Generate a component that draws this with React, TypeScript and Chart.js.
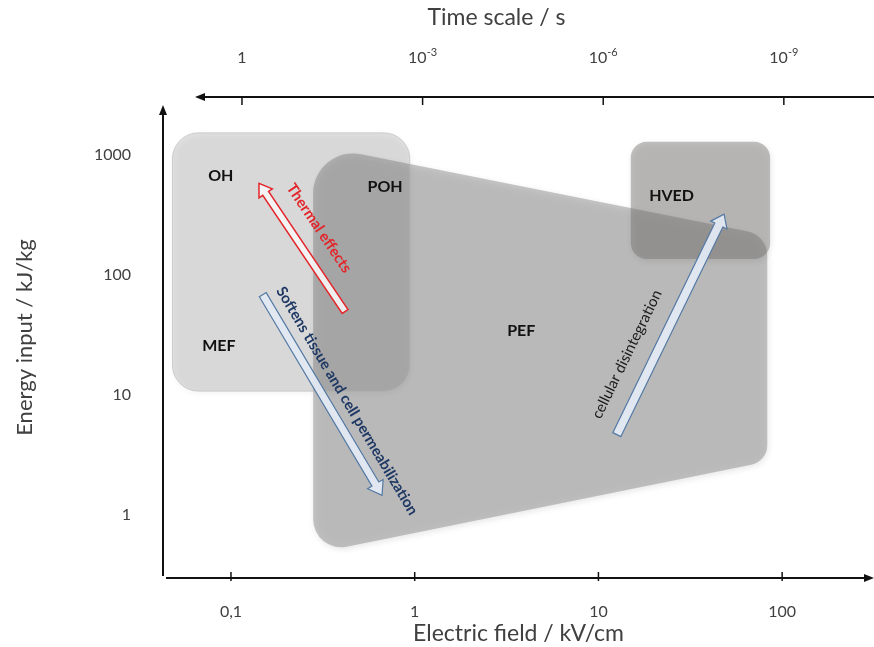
import React, { useEffect, useRef } from 'react';
import { Chart, registerables } from 'chart.js';

Chart.register(...registerables);

// ---------- data ----------
const X_TICKS = [0.1, 1, 10, 100];
const X_TICK_LABELS = ['0,1', '1', '10', '100'];
const Y_TICKS = [1, 10, 100, 1000];
const Y_TICK_LABELS = ['1', '10', '100', '1000'];
const TIME_TICKS = [1, 1e-3, 1e-6, 1e-9];
const TIME_TICK_BASE = ['1', '10', '10', '10'];
const TIME_TICK_EXP = ['', '-3', '-6', '-9'];

// regions (electric field kV/cm, energy kJ/kg)
const OH_X = [0.048, 0.94];
const OH_Y = [10.8, 1530];
const PEF_X = [0.28, 83, 83, 0.28];
const PEF_Y = [1220, 215, 2.8, 0.48];
const HVED_X = [15, 86];
const HVED_Y = [136, 1290];

const LABEL_TEXT = ['OH', 'POH', 'MEF', 'PEF', 'HVED'];
const LABEL_X = [0.088, 0.69, 0.086, 3.8, 25];
const LABEL_Y = [676, 548, 25.5, 34.6, 453];

const ARROW_TEXT = ['Thermal effects', 'Softens tissue and cell permeabilization', 'cellular disintegration'];
const ARROW_FROM_X = [0.418, 0.149, 12.6];
const ARROW_FROM_Y = [49.7, 68.7, 4.69];
const ARROW_TO_X = [0.142, 0.664, 48.3];
const ARROW_TO_Y = [580, 1.466, 321];
const ARROW_TEXT_X = [0.301, 0.428, 14.3];
const ARROW_TEXT_Y = [246, 8.95, 21.9];

// ---------- styles ----------
const FONT = 'Lato, "Open Sans", sans-serif';
const TXT = '#404040';
const ARROW_STYLE = [
  { stroke: '#e3262b', fill: 'rgba(246,246,246,0.9)', w: 3.5, hw: 8, hl: 12, lw: 1.5, color: '#e3262b', font: `bold 15px ${FONT}` },
  { stroke: '#5479a3', fill: 'rgba(226,233,243,0.95)', w: 4, hw: 9, hl: 13, lw: 1.2, color: '#1f3864', font: `bold 15px ${FONT}` },
  { stroke: '#5479a3', fill: 'rgba(226,233,243,0.95)', w: 4.5, hw: 9, hl: 12, lw: 1.2, color: '#1a1a1a', font: `15px ${FONT}` },
];

function roundedPath(ctx: CanvasRenderingContext2D, pts: number[][], radii: number[]) {
  const n = pts.length;
  ctx.beginPath();
  ctx.moveTo((pts[n - 1][0] + pts[0][0]) / 2, (pts[n - 1][1] + pts[0][1]) / 2);
  for (let i = 0; i < n; i++) {
    const p = pts[i];
    const q = pts[(i + 1) % n];
    ctx.arcTo(p[0], p[1], q[0], q[1], radii[i]);
  }
  ctx.closePath();
}

function blockArrow(ctx: CanvasRenderingContext2D, t: number[], p: number[], w: number, hw: number, hl: number) {
  const dx = p[0] - t[0];
  const dy = p[1] - t[1];
  const L = Math.hypot(dx, dy);
  const ux = dx / L, uy = dy / L;
  const nx = -uy, ny = ux;
  const bx = p[0] - ux * hl, by = p[1] - uy * hl;
  ctx.beginPath();
  ctx.moveTo(t[0] + nx * w, t[1] + ny * w);
  ctx.lineTo(bx + nx * w, by + ny * w);
  ctx.lineTo(bx + nx * hw, by + ny * hw);
  ctx.lineTo(p[0], p[1]);
  ctx.lineTo(bx - nx * hw, by - ny * hw);
  ctx.lineTo(bx - nx * w, by - ny * w);
  ctx.lineTo(t[0] - nx * w, t[1] - ny * w);
  ctx.closePath();
}

const diagramPlugin = {
  id: 'diagram',
  beforeDatasetsDraw(chart: any) {
    const ctx: CanvasRenderingContext2D = chart.ctx;
    const sx = chart.scales.x, sy = chart.scales.y;
    const P = (x: number, y: number) => [sx.getPixelForValue(x), sy.getPixelForValue(y)];
    const rect = (xs: number[], ys: number[]) => [P(xs[0], ys[1]), P(xs[1], ys[1]), P(xs[1], ys[0]), P(xs[0], ys[0])];

    ctx.save();
    // PEF
    ctx.shadowColor = 'rgba(0,0,0,0.22)';
    ctx.shadowBlur = 6;
    ctx.shadowOffsetX = 1;
    ctx.shadowOffsetY = 2;
    roundedPath(ctx, PEF_X.map((x, i) => P(x, PEF_Y[i])), [40, 25, 20, 28]);
    ctx.fillStyle = 'rgba(128,128,128,0.44)';
    ctx.fill();
    // OH / MEF
    roundedPath(ctx, rect(OH_X, OH_Y), [26, 26, 26, 26]);
    ctx.fillStyle = 'rgba(128,128,128,0.24)';
    ctx.fill();
    ctx.shadowColor = 'transparent';
    ctx.strokeStyle = 'rgba(175,175,175,0.5)';
    ctx.lineWidth = 1;
    ctx.stroke();
    // HVED
    ctx.shadowColor = 'rgba(0,0,0,0.2)';
    roundedPath(ctx, rect(HVED_X, HVED_Y), [16, 16, 16, 16]);
    ctx.fillStyle = 'rgba(122,116,116,0.46)';
    ctx.fill();
    ctx.restore();

    // arrows
    ctx.save();
    ARROW_TEXT.forEach((txt, i) => {
      const st = ARROW_STYLE[i];
      const t = P(ARROW_FROM_X[i], ARROW_FROM_Y[i]);
      const p = P(ARROW_TO_X[i], ARROW_TO_Y[i]);
      blockArrow(ctx, t, p, st.w, st.hw, st.hl);
      ctx.fillStyle = st.fill;
      ctx.fill();
      ctx.strokeStyle = st.stroke;
      ctx.lineWidth = st.lw;
      ctx.lineJoin = 'miter';
      ctx.stroke();
      let ang = Math.atan2(p[1] - t[1], p[0] - t[0]);
      if (p[0] - t[0] < 0) ang += Math.PI;
      const c = P(ARROW_TEXT_X[i], ARROW_TEXT_Y[i]);
      ctx.save();
      ctx.translate(c[0], c[1]);
      ctx.rotate(ang);
      ctx.font = st.font;
      ctx.fillStyle = st.color;
      ctx.textAlign = 'center';
      ctx.textBaseline = 'middle';
      ctx.fillText(txt, 0, 0);
      ctx.restore();
    });
    ctx.restore();

    // region labels
    ctx.save();
    ctx.font = `bold 16px ${FONT}`;
    ctx.fillStyle = '#111';
    ctx.textAlign = 'center';
    ctx.textBaseline = 'middle';
    LABEL_TEXT.forEach((t, i) => {
      const p = P(LABEL_X[i], LABEL_Y[i]);
      ctx.fillText(t, p[0], p[1]);
    });
    ctx.restore();
  },
  afterDraw(chart: any) {
    const ctx: CanvasRenderingContext2D = chart.ctx;
    const a = chart.chartArea;
    const sx = chart.scales.x, st = chart.scales.x2;
    ctx.save();
    ctx.strokeStyle = '#111';
    ctx.fillStyle = '#111';
    ctx.lineWidth = 2;
    // y axis with arrow up
    ctx.beginPath();
    ctx.moveTo(a.left, a.bottom - 2);
    ctx.lineTo(a.left, a.top + 16);
    ctx.stroke();
    ctx.beginPath();
    ctx.moveTo(a.left, a.top + 8);
    ctx.lineTo(a.left - 4, a.top + 18);
    ctx.lineTo(a.left + 4, a.top + 18);
    ctx.closePath();
    ctx.fill();
    // bottom axis with arrow right
    ctx.beginPath();
    ctx.moveTo(a.left + 3, a.bottom);
    ctx.lineTo(a.right - 8, a.bottom);
    ctx.stroke();
    ctx.beginPath();
    ctx.moveTo(a.right, a.bottom);
    ctx.lineTo(a.right - 10, a.bottom - 4);
    ctx.lineTo(a.right - 10, a.bottom + 4);
    ctx.closePath();
    ctx.fill();
    // top axis with arrow left
    ctx.beginPath();
    ctx.moveTo(a.right, a.top);
    ctx.lineTo(a.left + 40, a.top);
    ctx.stroke();
    ctx.beginPath();
    ctx.moveTo(a.left + 32, a.top);
    ctx.lineTo(a.left + 42, a.top - 4);
    ctx.lineTo(a.left + 42, a.top + 4);
    ctx.closePath();
    ctx.fill();
    // tick marks
    ctx.lineWidth = 1.5;
    X_TICKS.forEach((v) => {
      const x = sx.getPixelForValue(v);
      ctx.beginPath();
      ctx.moveTo(x, a.bottom - 6);
      ctx.lineTo(x, a.bottom + 3);
      ctx.stroke();
    });
    TIME_TICKS.forEach((v) => {
      const x = st.getPixelForValue(v);
      ctx.beginPath();
      ctx.moveTo(x, a.top);
      ctx.lineTo(x, a.top + 8);
      ctx.stroke();
    });
    // top tick labels with superscripts
    ctx.fillStyle = TXT;
    ctx.textBaseline = 'middle';
    ctx.textAlign = 'left';
    TIME_TICKS.forEach((v, i) => {
      const x = st.getPixelForValue(v);
      ctx.font = `16px ${FONT}`;
      const w1 = ctx.measureText(TIME_TICK_BASE[i]).width;
      ctx.font = `11px ${FONT}`;
      const w2 = TIME_TICK_EXP[i] ? ctx.measureText(TIME_TICK_EXP[i]).width : 0;
      const x0 = x - (w1 + w2) / 2;
      ctx.font = `16px ${FONT}`;
      ctx.fillText(TIME_TICK_BASE[i], x0, a.top - 39);
      if (w2) {
        ctx.font = `11px ${FONT}`;
        ctx.fillText(TIME_TICK_EXP[i], x0 + w1, a.top - 45);
      }
    });
    // top title
    ctx.font = `23px ${FONT}`;
    ctx.textAlign = 'center';
    ctx.fillText('Time scale / s', (a.left + a.right) / 2 - 22, 18);
    ctx.restore();
  },
};

export default function App() {
  const ref = useRef<HTMLCanvasElement | null>(null);
  useEffect(() => {
    if (!ref.current) return;
    const chart = new Chart(ref.current, {
      type: 'scatter',
      data: { datasets: [] },
      plugins: [diagramPlugin],
      options: {
        animation: false,
        responsive: false,
        devicePixelRatio: 1,
        layout: { padding: 0 },
        plugins: { legend: { display: false }, tooltip: { enabled: false } },
        scales: {
          x: {
            type: 'logarithmic',
            position: 'bottom',
            min: 0.04266,
            max: 316.2,
            afterBuildTicks: (s: any) => { s.ticks = X_TICKS.map((v) => ({ value: v })); },
            afterFit: (s: any) => { s.height = 69; },
            grid: { display: false, drawTicks: false },
            border: { display: false },
            ticks: {
              padding: 24,
              color: TXT,
              font: { family: FONT, size: 16 },
              maxRotation: 0,
              callback: (v: any) => X_TICK_LABELS[X_TICKS.indexOf(Number(v))] ?? '',
            },
            title: { display: true, text: 'Electric field / kV/cm', color: TXT, font: { family: FONT, size: 23 }, padding: { top: 0, bottom: 0 } },
          },
          x2: {
            type: 'logarithmic',
            position: 'top',
            reverse: true,
            min: 3.18e-11,
            max: 20.5,
            afterBuildTicks: (s: any) => { s.ticks = TIME_TICKS.map((v) => ({ value: v })); },
            afterFit: (s: any) => { s.height = 97; },
            grid: { display: false, drawTicks: false },
            border: { display: false },
            ticks: { display: false },
          },
          y: {
            type: 'logarithmic',
            position: 'left',
            min: 0.3196,
            max: 3041,
            afterBuildTicks: (s: any) => { s.ticks = Y_TICKS.map((v) => ({ value: v })); },
            afterFit: (s: any) => { s.width = 163; },
            grid: { display: false, drawTicks: false },
            border: { display: false },
            ticks: {
              padding: 32,
              color: TXT,
              font: { family: FONT, size: 16 },
              callback: (v: any) => Y_TICK_LABELS[Y_TICKS.indexOf(Number(v))] ?? '',
            },
            title: { display: true, text: 'Energy input / kJ/kg', color: TXT, font: { family: FONT, size: 22 }, padding: { top: 12, bottom: 0 } },
          },
        },
      },
    } as any);
    return () => chart.destroy();
  }, []);
  return (
    <div style={{ position: 'fixed', left: 0, top: 0, width: 874, height: 647, background: '#fff' }}>
      <canvas ref={ref} width={874} height={647} style={{ display: 'block' }} />
    </div>
  );
}
